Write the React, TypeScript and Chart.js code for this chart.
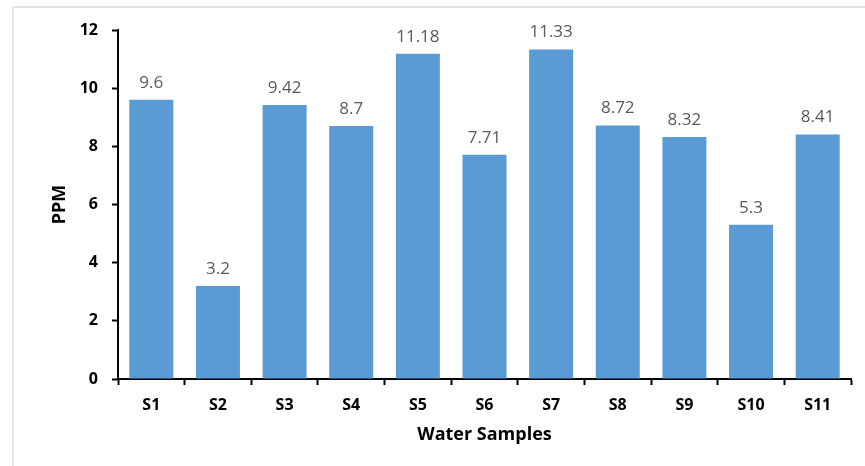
import React, { useEffect, useRef } from "react";
import { Chart, registerables } from "chart.js";

Chart.register(...registerables);

const categories = ["S1", "S2", "S3", "S4", "S5", "S6", "S7", "S8", "S9", "S10", "S11"];
const ppmValues = [9.6, 3.2, 9.42, 8.7, 11.18, 7.71, 11.33, 8.72, 8.32, 5.3, 8.41];
const yTicks = [0, 2, 4, 6, 8, 10, 12];
const xTitle = "Water Samples";
const yTitle = "PPM";

const FONT = "'Open Sans', 'Liberation Sans', sans-serif";

const overlayPlugin = {
  id: "overlay",
  afterDatasetsDraw(chart: any) {
    const ctx = chart.ctx;
    const meta = chart.getDatasetMeta(0);
    ctx.save();
    ctx.fillStyle = "#595959";
    ctx.font = `17px ${FONT}`;
    ctx.textAlign = "center";
    ctx.textBaseline = "alphabetic";
    meta.data.forEach((bar: any, i: number) => {
      ctx.fillText(String(ppmValues[i]), bar.x, bar.y - 12);
    });
    const xs = chart.scales.x;
    const ys = chart.scales.y;
    ctx.fillStyle = "#000";
    ctx.font = `bold 18px ${FONT}`;
    ctx.textBaseline = "middle";
    ctx.fillText(xTitle, (xs.left + xs.right) / 2, 435);
    ctx.translate(60, (ys.top + ys.bottom) / 2);
    ctx.rotate(-Math.PI / 2);
    ctx.fillText(yTitle, 0, 0);
    ctx.restore();
  },
};

export default function App() {
  const ref = useRef<HTMLCanvasElement>(null);
  useEffect(() => {
    document.body.style.margin = "0";
    const chart = new Chart(ref.current!, {
      type: "bar",
      data: {
        labels: categories,
        datasets: [
          {
            data: ppmValues,
            backgroundColor: "#5B9BD5",
            barPercentage: 0.66,
            categoryPercentage: 1,
          },
        ],
      },
      options: {
        animation: false,
        responsive: false,
        maintainAspectRatio: false,
        layout: { padding: { top: 30, right: 14, left: 0, bottom: 0 } },
        plugins: { legend: { display: false }, tooltip: { enabled: false } },
        scales: {
          x: {
            grid: { display: true, drawOnChartArea: false, drawTicks: true, tickLength: 6, tickColor: "#000", tickWidth: 2, offset: true },
            border: { display: true, color: "#000", width: 2 },
            ticks: { color: "#000", font: { family: FONT, size: 16, weight: "bold" }, padding: 11, maxRotation: 0 },
            afterFit: (s: any) => { s.height = 87; },
          },
          y: {
            min: 0,
            max: 12,
            afterBuildTicks: (s: any) => { s.ticks = yTicks.map((v) => ({ value: v })); },
            grid: { display: true, drawOnChartArea: false, drawTicks: true, tickLength: 6, tickColor: "#000", tickWidth: 2 },
            border: { display: true, color: "#000", width: 2 },
            ticks: { color: "#000", font: { family: FONT, size: 16, weight: "bold" }, padding: 14 },
            afterFit: (s: any) => { s.width = 118; },
          },
        },
      },
      plugins: [overlayPlugin],
    });
    return () => chart.destroy();
  }, []);
  return (
    <div style={{ position: "relative", width: 865, height: 466, background: "#fff" }}>
      <div style={{ position: "absolute", left: 12, top: 6, width: 870, height: 470, borderLeft: "2px solid #e3e3e3", borderTop: "2px solid #e3e3e3" }} />
      <canvas ref={ref} width={865} height={466} style={{ position: "absolute", left: 0, top: 0 }} />
    </div>
  );
}
